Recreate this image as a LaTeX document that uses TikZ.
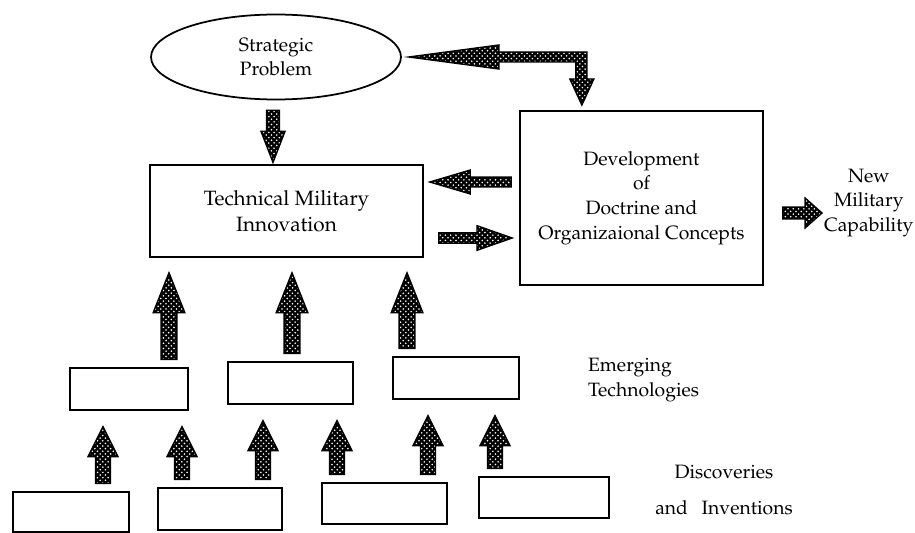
\documentclass[tikz,border=0pt]{standalone}
\usepackage[T1]{fontenc}
\renewcommand{\rmdefault}{ppl}
\usepackage{tikz}
\usetikzlibrary{shapes.geometric,calc,patterns}
\tikzset{Bnode/.style={draw,line width=1pt,inner sep=0pt,minimum height=0.84cm},
	Tnode/.style={align=center,inner sep=1pt,font=\fontsize{11}{14}\selectfont},
	fatfill/.style={draw,line width=.8pt,line join=miter,preaction={fill=black},pattern=crosshatch dots,pattern color=white},
	gapA/.store in=\gapA, gapB/.store in=\gapB, gapA=0pt, gapB=0pt,
	fatarrow/.style n args={3}{every edge/.style={fatfill},
		to path={(\tikztostart) coordinate (fa0) (\tikztotarget) coordinate (fa1)
			($(fa0)!\gapA!(fa1)$) coordinate (fas) ($(fa1)!\gapB!(fa0)$) coordinate (fat)
			($(fat)!#3!(fas)$) coordinate (fab)
			($(fas)!#1!90:(fat)$) -- ($(fab)!#1!-90:(fas)$) -- ($(fab)!#2!-90:(fas)$) -- (fat)
			-- ($(fab)!#2!90:(fas)$) -- ($(fab)!#1!90:(fas)$) -- ($(fas)!#1!-90:(fat)$) -- cycle}}}
\begin{document}
\begin{tikzpicture}[x=0.02cm,y=-0.02cm]
	\useasboundingbox (0,0) rectangle (915,533);
	\node[ellipse,draw,line width=1pt,minimum width=5cm,minimum height=1.7cm,Tnode] (SP) at (276,57) {Strategic\\Problem};
	\node[Bnode,Tnode,minimum width=5.46cm,minimum height=1.84cm,font=\fontsize{11.8}{15}\selectfont] (TMI) at (286.5,211) {Technical Military\\Innovation};
	\node[Bnode,Tnode,minimum width=4.86cm,minimum height=3.48cm] (DOC) at (641.5,198) {Development\\of\\Doctrine and\\Organizaional Concepts};
	\node[Tnode,anchor=west] (NMC) at (822,203) {New\\Military\\Capability};
	%
	\node[Bnode,minimum width=2.36cm] (E1) at (129,389) {};
	\node[Bnode,minimum width=2.5cm] (E2) at (290.5,383) {};
	\node[Bnode,minimum width=2.52cm] (E3) at (456,378) {};
	\node[Tnode,anchor=west,align=left] (ET) at (586,380) {Emerging\\Technologies};
	%
	\node[Bnode,minimum width=2.32cm,minimum height=0.8cm] (D1) at (71,512) {};
	\node[Bnode,minimum width=2.48cm] (D2) at (220,509) {};
	\node[Bnode,minimum width=2.5cm,minimum height=0.82cm] (D3) at (384.5,503.5) {};
	\node[Bnode,minimum width=2.6cm,minimum height=0.82cm] (D4) at (544,497.5) {};
	\node[Tnode] (DI) at (724,490) {Discoveries\\[6pt]and\hspace{5pt} Inventions};
	%
	\coordinate (tL) at ($(SP.east)+(7,0)$);
	\path[fatfill] (tL) -- ++(90,-12) -- ++(0,7) -- ++(88,0) -- ++(0,27) -- ++(7,0) -- ++(-12,26)
		-- ++(-12,-26) -- ++(6,0) -- ++(0,-17) -- ++(-77,0) -- ++(0,7) -- cycle;
	%
	\path[fatarrow={3.7pt}{6.8pt}{17.6pt},gapA=5.7pt,gapB=1pt]
	(SP.south -| 273,0) edge (TMI.north -| 273,0);
	\path[fatarrow={2.8pt}{6.8pt}{23pt},gapA=4.5pt,gapB=3.4pt]
	(DOC.west |- 0,182) edge (TMI.east |- 0,182);
	\path[fatarrow={3pt}{7pt}{20pt},gapA=8.5pt,gapB=4pt]
	(TMI.east |- 0,238) edge (DOC.west |- 0,238);
	\path[fatarrow={3.4pt}{8.5pt}{9.6pt},gapA=10.8pt]
	(DOC.east |- 0,213) edge (NMC.west |- 0,213);
	%
	\path[fatarrow={4.5pt}{9pt}{22.7pt},gapA=4.4pt,gapB=8.5pt]
	(E1.north -| 169,0) edge (TMI.south -| 169,0)
	(E2.north -| 292,0) edge (TMI.south -| 292,0)
	(E3.north -| 407,0) edge (TMI.south -| 407,0);
	\path[fatarrow={4.25pt}{8.5pt}{17pt},gapA=4.4pt,gapB=9pt]
	(D1.north -| 103,0) edge (E1.south -| 103,0)
	(D2.north -| 182,0) edge (E1.south -| 182,0)
	(D2.north -| 263,0) edge (E2.south -| 263,0)
	(D3.north -| 337,0) edge (E2.south -| 337,0)
	(D3.north -| 428,0) edge (E3.south -| 428,0)
	(D4.north -| 495,0) edge (E3.south -| 495,0);
\end{tikzpicture}
\end{document}
